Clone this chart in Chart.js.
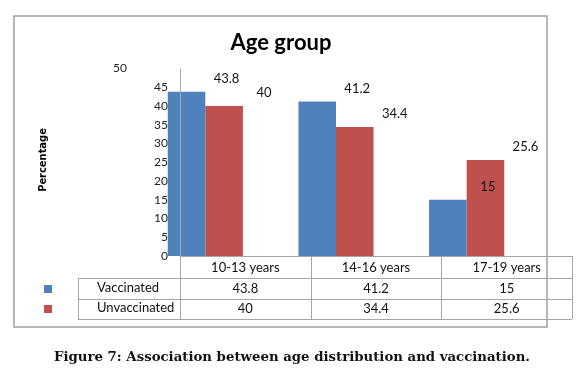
<!DOCTYPE html>
<html>
<head>
<meta charset="utf-8">
<script src="https://cdn.jsdelivr.net/npm/chart.js@4.4.1/dist/chart.umd.min.js"></script>
<style>
  html, body { margin: 0; padding: 0; background: #fff; }
  #wrap { position: relative; width: 579px; height: 371px; }
  #caption {
    position: absolute; left: 4px; width: 576px; top: 349px;
    text-align: center; font: bold 13.3px "DejaVu Serif", "Liberation Serif", serif; color: #111;
  }
</style>
</head>
<body>
<div id="wrap">
  <canvas id="myChart" width="579" height="371"></canvas>
  <div id="caption">Figure 7: Association between age distribution and vaccination.</div>
</div>
<script>
const categories = ["10-13 years", "14-16 years", "17-19 years"];
const seriesNames = ["Vaccinated", "Unvaccinated"];
const vaccinated = [43.8, 41.2, 15];
const unvaccinated = [40, 34.4, 25.6];
const seriesColors = ["#4F81BD", "#C0504D"];
const yMax = 50;
const yStep = 5;

const FONT = "Lato, 'Open Sans', sans-serif";
const tableShift = 40; // the data table sits to the right of the bar groups

// title, stray "50", data labels, data table and frame
const extras = {
  id: "extras",
  afterDatasetsDraw(chart) {
    const { ctx, scales: { x, y }, chartArea } = chart;
    const catW = x.getPixelForValue(1) - x.getPixelForValue(0);
    const colX = (i) => x.getPixelForValue(i) + tableShift;
    const tblLeft = colX(0) - catW / 2;
    const tblRight = colX(categories.length - 1) + catW / 2;
    const rowTop = [chartArea.bottom, 278, 299, 319];
    const labelLeft = 78;

    ctx.save();

    // frame
    ctx.strokeStyle = "#a0a0a0";
    ctx.lineWidth = 1.5;
    ctx.strokeRect(14, 16, 533, 311);

    // title
    ctx.fillStyle = "#000";
    ctx.font = "bold 22px " + FONT;
    ctx.textAlign = "center";
    ctx.textBaseline = "middle";
    ctx.fillText("Age group", 281, 43);

    // the 50 tick label, pushed left as in the original
    ctx.font = "12px " + FONT;
    ctx.fillStyle = "#222";
    ctx.fillText(String(yMax), 120, y.getPixelForValue(yMax));

    // y axis title
    ctx.save();
    ctx.translate(43, 160);
    ctx.rotate(-Math.PI / 2);
    ctx.font = "bold 11px 'Liberation Sans Narrow', 'DejaVu Sans Condensed', sans-serif";
    ctx.fillStyle = "#000";
    ctx.fillText("Percentage", 0, 0);
    ctx.restore();

    // value labels
    ctx.font = "13px " + FONT;
    ctx.fillStyle = "#111";
    chart.data.datasets.forEach((ds, di) => {
      chart.getDatasetMeta(di).data.forEach((bar, i) => {
        ctx.fillText(String(ds.data[i]), bar.x + 40, bar.y - 13);
      });
    });

    // table lines
    ctx.strokeStyle = "#a6a6a6";
    ctx.lineWidth = 1;
    ctx.beginPath();
    ctx.moveTo(tblLeft, rowTop[0] + 0.5);
    ctx.lineTo(tblRight, rowTop[0] + 0.5);
    for (let r = 1; r < rowTop.length; r++) {
      ctx.moveTo(labelLeft, rowTop[r] + 0.5);
      ctx.lineTo(tblRight, rowTop[r] + 0.5);
    }
    ctx.moveTo(labelLeft + 0.5, rowTop[1]);
    ctx.lineTo(labelLeft + 0.5, rowTop[3]);
    // first divider runs up through the plot
    ctx.moveTo(Math.round(tblLeft) + 0.5, chartArea.top);
    ctx.lineTo(Math.round(tblLeft) + 0.5, rowTop[3]);
    for (let i = 0; i < categories.length; i++) {
      const xr = Math.round(colX(i) + catW / 2) + 0.5;
      ctx.moveTo(xr, rowTop[0]);
      ctx.lineTo(xr, rowTop[3]);
    }
    ctx.stroke();

    // table text
    ctx.font = "13px " + FONT;
    ctx.fillStyle = "#111";
    ctx.textAlign = "center";
    categories.forEach((c, i) => {
      ctx.fillText(c, colX(i), 268);
      chart.data.datasets.forEach((ds, di) => {
        ctx.fillText(String(ds.data[i]), colX(i), 289 + di * 20);
      });
    });
    ctx.textAlign = "left";
    seriesNames.forEach((n, di) => {
      ctx.fillStyle = "#111";
      ctx.fillText(n, 97, 288 + di * 20);
      ctx.fillStyle = seriesColors[di];
      ctx.fillRect(44, 285 + di * 20, 8, 8);
    });

    ctx.restore();
  },
};

const ctx = document.getElementById("myChart");

const myChart = new Chart(ctx, {
  type: "bar",
  plugins: [extras],
  data: {
    labels: categories,
    datasets: [
      {
        label: seriesNames[0],
        data: vaccinated,
        backgroundColor: seriesColors[0],
        borderWidth: 0,
        barPercentage: 1,
        categoryPercentage: 0.575,
      },
      {
        label: seriesNames[1],
        data: unvaccinated,
        backgroundColor: seriesColors[1],
        borderWidth: 0,
        barPercentage: 1,
        categoryPercentage: 0.575,
      },
    ],
  },
  options: {
    responsive: false,
    animation: false,
    layout: {
      padding: { left: 140, right: 47, top: 68.5, bottom: 115 },
    },
    plugins: {
      legend: { display: false },
      title: { display: false },
      tooltip: { enabled: false },
    },
    scales: {
      x: { display: false },
      y: {
        min: 0,
        max: yMax,
        afterFit(scale) { scale.width = 0; },
        grid: { display: false, drawTicks: false },
        border: { display: false },
        ticks: {
          stepSize: yStep,
          mirror: true,
          crossAlign: "far",
          padding: 14,
          color: "#222",
          font: { family: FONT, size: 12 },
          callback: (v) => (v === yMax ? "" : v),
        },
      },
    },
  },
});
</script>
</body>
</html>
